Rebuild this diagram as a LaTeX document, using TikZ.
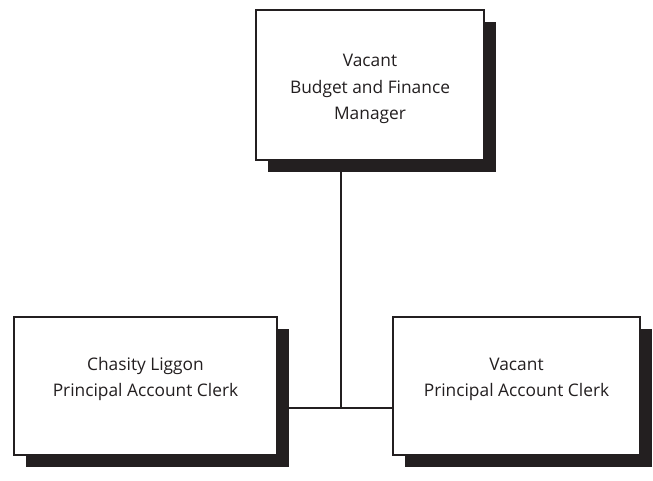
\documentclass[tikz,border=0pt]{standalone}
\usepackage{fontspec}
\setmainfont{Open Sans}
\usetikzlibrary{shadows,backgrounds}
\definecolor{ink}{HTML}{231F20}
\newcommand\orgtext[2]{\raisebox{#1}[\height][\depth]{\begin{tabular}{@{}c@{}}#2\end{tabular}}}
\begin{document}
\begin{tikzpicture}[x=0.75pt,y=-0.75pt,
  orgbox/.style={draw=ink, line width=1.5pt, fill=white, align=center,
    inner sep=0pt, text=ink, font=\fontsize{13}{20}\selectfont,
    drop shadow={shadow xshift=9pt, shadow yshift=-9pt, fill=ink, opacity=1}},
  link/.style={draw=ink, line width=1.5pt}]
\useasboundingbox (0,0) rectangle (653,480);
\coordinate (j) at (341,408);
\node[orgbox, minimum width=171pt, minimum height=112.5pt] (top) at (370,85)
  {\orgtext{-2pt}{Vacant\\Budget and Finance\\Manager}};
\node[orgbox, minimum width=197.25pt, minimum height=103.5pt] (left) at (145.5,386)
  {\orgtext{6pt}{Chasity Liggon\\Principal Account Clerk}};
\node[orgbox, minimum width=185.25pt, minimum height=103.5pt] (right) at (516.5,386)
  {\orgtext{6pt}{Vacant\\Principal Account Clerk}};
\begin{scope}[on background layer]
\draw[link] (top.south -| j) -- (j);
\draw[link] (left.east |- j) -- (right.west |- j);
\end{scope}
\end{tikzpicture}
\end{document}
